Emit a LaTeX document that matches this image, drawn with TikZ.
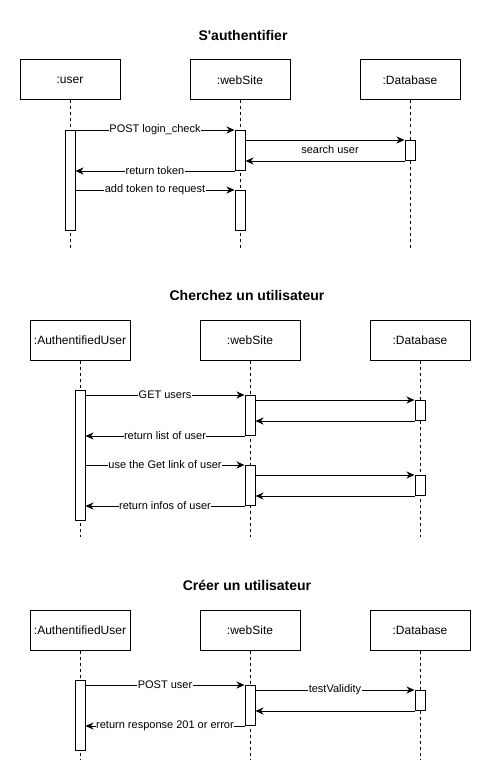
\documentclass[tikz,border=0pt]{standalone}
\usepackage{fontspec}
\setmainfont{Liberation Sans}
\usetikzlibrary{arrows.meta,calc}
\begin{document}
\begin{tikzpicture}[x=1pt,y=-1pt,
  every node/.style={font=\fontsize{11}{13}\selectfont},
  titlebox/.style={font=\fontsize{14}{16}\selectfont\bfseries, inner sep=0pt},
  objbox/.style={draw, line width=1pt, minimum width=100pt, minimum height=40pt, inner sep=0pt, font=\fontsize{12}{14}\selectfont},
  life/.style={line width=1pt, dash pattern=on 3pt off 3pt},
  actbox/.style={draw, fill=white, line width=1pt, minimum width=10pt, inner sep=0pt, anchor=north},
  msg/.style={line width=1pt, -{Stealth[length=8pt,width=7pt,inset=2.5pt]}},
  lbl/.style={fill=white, inner sep=0.5pt}
]
\useasboundingbox (0,0) rectangle (491,781);
\fill[white] (0,0) rectangle (491,781);

% ===== Diagram 1 =====
\node[titlebox] (t1) at (243,35) {S\textquotesingle authentifier};
\node[objbox] (u1) at (70,80) {:user};
\node[objbox] (w1) at (240,80) {:webSite};
\node[objbox] (d1) at (410,80) {:Database};
\coordinate (u1e) at (70,248);
\coordinate (w1e) at (240,248);
\coordinate (d1e) at (410,248);
\draw[life] (u1.south) -- (u1e);
\draw[life] (w1.south) -- (w1e);
\draw[life] (d1.south) -- (d1e);
\node[actbox, minimum height=100pt] (ua1) at (70,130) {};
\node[actbox, minimum height=40pt] (wa1a) at (240,130) {};
\node[actbox, minimum height=40pt] (wa1b) at (240,190) {};
\node[actbox, minimum height=20pt] (da1) at (410,140) {};
\draw[msg] (ua1.east |- wa1a.north) -- node[lbl] (l1a) {POST login\_check} (wa1a.north west);
\draw[msg] (wa1a.east |- da1.north) -- (da1.north west);
\draw[msg] (da1.south west) -- (wa1a.east |- da1.south);
\node (l1b) at (330,150) {search user};
\draw[msg] (wa1a.south west) -- node[lbl] (l1c) {return token} (ua1.east |- wa1a.south);
\draw[msg] (ua1.east |- wa1b.north) -- node[lbl] (l1d) {add token to request} (wa1b.north west);

% ===== Diagram 2 =====
\node[titlebox] (t2) at (247,295) {Cherchez un utilisateur};
\node[objbox] (u2) at (80,340) {:AuthentifiedUser};
\node[objbox] (w2) at (250,340) {:webSite};
\node[objbox] (d2) at (420,340) {:Database};
\coordinate (u2e) at (80,537);
\coordinate (w2e) at (250,537);
\coordinate (d2e) at (420,537);
\draw[life] (u2.south) -- (u2e);
\draw[life] (w2.south) -- (w2e);
\draw[life] (d2.south) -- (d2e);
\node[actbox, minimum height=130pt] (ua2) at (80,390) {};
\node[actbox, minimum height=40pt] (wa2a) at (250,395) {};
\node[actbox, minimum height=20pt] (da2a) at (420,400) {};
\node[actbox, minimum height=40pt] (wa2b) at (250,465) {};
\node[actbox, minimum height=20pt] (da2b) at (420,475) {};
\draw[msg] (ua2.east |- wa2a.north) -- node[lbl] (l2a) {GET users} (wa2a.north west);
\draw[msg] (wa2a.east |- da2a.north) -- (da2a.north west);
\draw[msg] (da2a.south west) -- (wa2a.east |- da2a.south);
\draw[msg] (wa2a.south west) -- node[lbl] (l2b) {return list of user} (ua2.east |- wa2a.south);
\draw[msg] (ua2.east |- wa2b.north) -- node[lbl] (l2c) {use the Get link of user} (wa2b.north west);
\draw[msg] (wa2b.east |- da2b.north) -- (da2b.north west);
\draw[msg] (da2b.south west) -- (wa2b.east |- da2b.south);
\draw[msg] (wa2b.south west) -- node[lbl] (l2d) {return infos of user} (ua2.east |- wa2b.south);

% ===== Diagram 3 =====
\node[titlebox] (t3) at (247,585) {Créer un utilisateur};
\node[objbox] (u3) at (80,630) {:AuthentifiedUser};
\node[objbox] (w3) at (250,630) {:webSite};
\node[objbox] (d3) at (420,630) {:Database};
\coordinate (u3e) at (80,760);
\coordinate (w3e) at (250,760);
\coordinate (d3e) at (420,760);
\draw[life] (u3.south) -- (u3e);
\draw[life] (w3.south) -- (w3e);
\draw[life] (d3.south) -- (d3e);
\node[actbox, minimum height=70pt] (ua3) at (80,680) {};
\node[actbox, minimum height=40pt] (wa3) at (250,685) {};
\node[actbox, minimum height=20pt] (da3) at (420,690) {};
\draw[msg] (ua3.east |- wa3.north) -- node[lbl] (l3a) {POST user} (wa3.north west);
\draw[msg] (wa3.east |- da3.north) -- node[lbl] (l3b) {testValidity} (da3.north west);
\draw[msg] (da3.south west) -- (wa3.east |- da3.south);
\draw[msg] (wa3.south west) -- node[lbl] (l3c) {return response 201 or error} (ua3.east |- wa3.south);
\end{tikzpicture}
\end{document}
